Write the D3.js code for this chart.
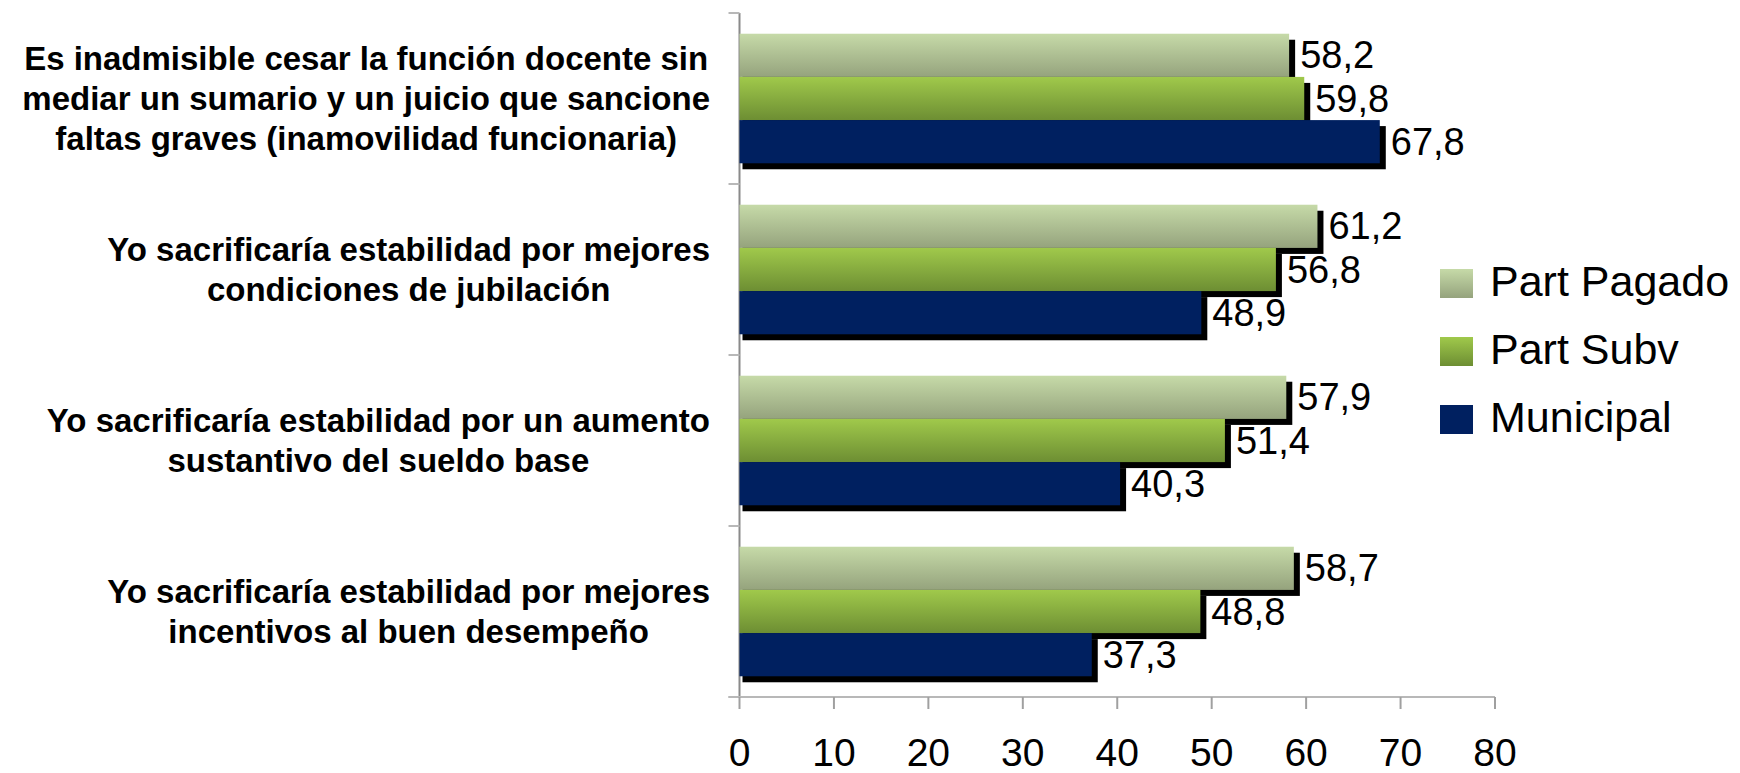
<!DOCTYPE html>
<html>
<head>
<meta charset="utf-8">
<script src="https://cdn.jsdelivr.net/npm/d3@7"></script>
<style>
    body { margin: 0; background: #ffffff; }
    svg { display: block; font-family: "Liberation Sans", Arial, sans-serif; }
</style>
</head>
<body>
<svg id="chart" width="1740" height="773"></svg>
<script>
// categories (top to bottom), each label split in lines
var categories = ["inamovilidad", "jubilacion", "sueldo", "incentivos"];
var categoryLines = [
    ["Es inadmisible cesar la función docente sin", "mediar un sumario y un juicio que sancione", "faltas graves (inamovilidad funcionaria)"],
    ["Yo sacrificaría estabilidad por mejores", "condiciones de jubilación"],
    ["Yo sacrificaría estabilidad por un aumento", "sustantivo del sueldo base"],
    ["Yo sacrificaría estabilidad por mejores", "incentivos al buen desempeño"]
];
var seriesNames = ["Part Pagado", "Part Subv", "Municipal"];
var partPagado = [58.2, 61.2, 57.9, 58.7];
var partSubv = [59.8, 56.8, 51.4, 48.8];
var municipal = [67.8, 48.9, 40.3, 37.3];
var xTicks = [0, 10, 20, 30, 40, 50, 60, 70, 80];

function drawChart() {
    let svg = d3.select("#chart");
    let values = [partPagado, partSubv, municipal];

    // gradients for the bars
    let defs = svg.append("defs");
    let grads = [
        ["gPagado", "#c6daa8", "#95a37d"],
        ["gSubv", "#a0c94b", "#6d8e33"],
        ["gMuni", "#002060", "#002060"]
    ];
    grads.forEach(function (g) {
        let lg = defs.append("linearGradient").attr("id", g[0])
            .attr("x1", 0).attr("y1", 0).attr("x2", 0).attr("y2", 1);
        lg.append("stop").attr("offset", "0%").attr("stop-color", g[1]);
        lg.append("stop").attr("offset", "100%").attr("stop-color", g[2]);
    });

    let x = d3.scaleLinear().domain([0, 80]).range([739.5, 1495]);
    let y0 = d3.scaleBand().domain(categories).range([13, 697]);
    let y1 = d3.scaleBand().domain(seriesNames).range([0, y0.bandwidth()]).paddingOuter(0.48);

    // y axis line + category separators
    svg.append("line")
        .attr("x1", x(0)).attr("x2", x(0)).attr("y1", 13).attr("y2", 697)
        .style("stroke", "#8a8a8a").style("stroke-width", 2);
    let sep = categories.map(function (c) { return y0(c); }).concat([697]);
    svg.append("g").selectAll("line")
        .data(sep)
        .enter().append("line")
        .attr("x1", x(0) - 11).attr("x2", x(0))
        .attr("y1", function (d) { return d; }).attr("y2", function (d) { return d; })
        .style("stroke", "#b8b8b8").style("stroke-width", 2);

    // x axis
    svg.append("line")
        .attr("x1", x(0) - 11).attr("x2", x(80)).attr("y1", 697).attr("y2", 697)
        .style("stroke", "#b8b8b8").style("stroke-width", 2);
    let xg = svg.append("g");
    xg.selectAll("line")
        .data(xTicks)
        .enter().append("line")
        .attr("x1", function (d) { return x(d); }).attr("x2", function (d) { return x(d); })
        .attr("y1", 697).attr("y2", 709)
        .style("stroke", "#a0a0a0").style("stroke-width", 2);
    xg.selectAll("text")
        .data(xTicks)
        .enter().append("text")
        .attr("x", function (d) { return x(d); })
        .attr("y", 766)
        .attr("text-anchor", "middle")
        .style("font-size", "39px")
        .style("fill", "#000")
        .text(function (d) { return d; });

    // bars: shadow first, then bar, series in order
    let fmt = d3.format(".1f");
    let barGroup = svg.append("g");
    categories.forEach(function (c, ci) {
        seriesNames.forEach(function (s, si) {
            let v = values[si][ci];
            let top = y0(c) + y1(s);
            let h = y1.bandwidth();
            barGroup.append("rect")
                .attr("x", x(0) + 3)
                .attr("y", top + 6)
                .attr("width", x(v) - x(0) + 3)
                .attr("height", h)
                .style("fill", "#000");
            barGroup.append("rect")
                .attr("x", x(0))
                .attr("y", top)
                .attr("width", x(v) - x(0))
                .attr("height", h)
                .style("fill", "url(#" + grads[si][0] + ")");
        });
    });
    // value labels on top of everything
    categories.forEach(function (c, ci) {
        seriesNames.forEach(function (s, si) {
            let v = values[si][ci];
            svg.append("text")
                .attr("x", x(v) + 11)
                .attr("y", y0(c) + y1(s) + y1.bandwidth() / 2 + 13)
                .style("font-size", "38px")
                .style("fill", "#000")
                .text(fmt(v).replace(".", ","));
        });
    });

    // category labels: centered block, right edge at 710
    let lineH = 40;
    categories.forEach(function (c, ci) {
        let lines = categoryLines[ci];
        let g = svg.append("g");
        let texts = g.selectAll("text")
            .data(lines)
            .enter().append("text")
            .attr("y", function (d, i) {
                let mid = y0(c) + y0.bandwidth() / 2;
                return mid + (i - (lines.length - 1) / 2) * lineH + 11;
            })
            .attr("text-anchor", "middle")
            .style("font-size", "33px")
            .style("font-weight", "bold")
            .style("fill", "#000")
            .text(function (d) { return d; });
        let w = 0;
        texts.each(function () { w = Math.max(w, this.getComputedTextLength()); });
        texts.attr("x", 710 - w / 2);
    });

    // legend
    let legend = svg.append("g");
    seriesNames.forEach(function (s, si) {
        let ly = 269 + si * 68;
        legend.append("rect")
            .attr("x", 1440).attr("y", ly)
            .attr("width", 33).attr("height", 29)
            .style("fill", "url(#" + grads[si][0] + ")");
        legend.append("text")
            .attr("x", 1490).attr("y", ly + 27)
            .style("font-size", "43px")
            .style("fill", "#000")
            .text(s);
    });
}

drawChart();
</script>
</body>
</html>
